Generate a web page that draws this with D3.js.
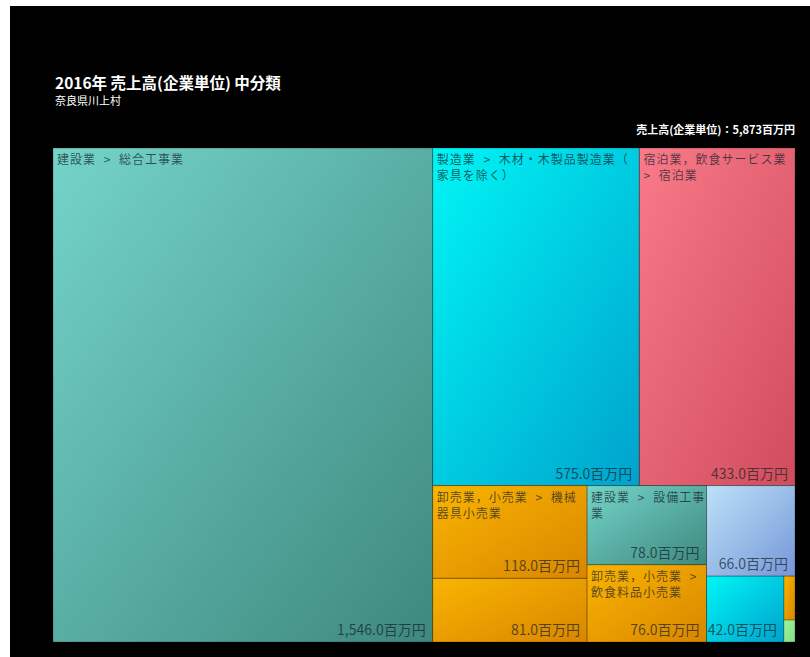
<!DOCTYPE html>
<html>
<head>
<meta charset="utf-8">
<script src="https://cdn.jsdelivr.net/npm/d3@7"></script>
<style>
	body { margin: 0; background: #fff; }
	svg { display: block; }
	text { font-family: "Noto Sans CJK JP", "Noto Sans", sans-serif; }
</style>
</head>
<body>
<div id="chart"></div>
<script>
// Data (百万円); "\n" marks where the reference wraps the label
const names = [
	"建設業 > 総合工事業",
	"製造業 > 木材・木製品製造業（\n家具を除く）",
	"宿泊業，飲食サービス業\n> 宿泊業",
	"卸売業，小売業 > 機械\n器具小売業",
	"",
	"建設業 > 設備工事\n業",
	"卸売業，小売業 >\n飲食料品小売業",
	"",
	"",
	"",
	""
];
const values = [1546, 575, 433, 118, 81, 78, 76, 66, 42, 4, 2];
const groups = ["建設業", "製造業", "宿泊業", "卸売業", "卸売業", "建設業", "卸売業", "other", "製造業", "卸売業", "other2"];
const title = "2016年 売上高(企業単位) 中分類";
const subtitle = "奈良県川上村";
const totalLabel = "売上高(企業単位)：5,873百万円";

const width = 810, height = 657;
const margin = [148, 15, 53, 15]; // top, bottom, left, right

// gradient colours per group [top-left, bottom-right]
const palette = {
	"建設業": ["#74d4ca", "#3e887e"],
	"製造業": ["#00f6f6", "#00a2cc"],
	"宿泊業": ["#fa7a8a", "#cf4c5c"],
	"卸売業": ["#fab400", "#d88600"],
	"other":  ["#bce2f8", "#7696d8"],
	"other2": ["#a0f4a0", "#80e080"]
};

const svg = d3.select("#chart").append("svg")
	.attr("width", width).attr("height", height);

// black panel
svg.append("rect")
	.attr("x", 10).attr("y", 6)
	.attr("width", width - 10).attr("height", height - 6)
	.attr("fill", "#000");

const defs = svg.append("defs");
Object.entries(palette).forEach(([k, c], i) => {
	let g = defs.append("linearGradient")
		.attr("id", "grad" + i)
		.attr("x1", 0).attr("y1", 0).attr("x2", 1).attr("y2", 1);
	g.append("stop").attr("offset", "0%").attr("stop-color", c[0]);
	g.append("stop").attr("offset", "100%").attr("stop-color", c[1]);
	palette[k].id = "grad" + i;
});

// Titles
svg.append("text")
	.attr("x", 55).attr("y", 89)
	.attr("fill", "#fff").attr("font-size", 15.5).attr("font-weight", "bold")
	.text(title);
svg.append("text")
	.attr("x", 55).attr("y", 105)
	.attr("fill", "#fff").attr("font-size", 11)
	.text(subtitle);
svg.append("text")
	.attr("x", 795).attr("y", 134)
	.attr("text-anchor", "end")
	.attr("fill", "#fff").attr("font-size", 11).attr("font-weight", "bold")
	.text(totalLabel);

// Treemap
const plotW = width - margin[2] - margin[3],
	plotH = height - margin[0] - margin[1];

const root = d3.hierarchy({
	children: values.map((v, i) => ({ name: names[i], value: v, group: groups[i] }))
})
	.sum(d => d.value || 0)
	.sort((a, b) => b.value - a.value);

d3.treemap()
	.tile(d3.treemapSquarify)
	.size([plotW, plotH])(root);

const chart = svg.append("g")
	.attr("transform", `translate(${margin[2]}, ${margin[0]})`);

const cells = chart.selectAll("g.cell")
	.data(root.leaves())
	.join("g")
	.classed("cell", true)
	.attr("transform", d => `translate(${d.x0}, ${d.y0})`);

cells.append("rect")
	.attr("width", d => d.x1 - d.x0)
	.attr("height", d => d.y1 - d.y0)
	.attr("fill", d => `url(#${palette[d.data.group].id})`)
	.attr("stroke", "rgba(0,0,0,0.25)")
	.attr("stroke-width", 1);

// name labels, one text per line
cells.filter(d => d.data.name)
	.selectAll("text.name")
	.data(d => d.data.name.split("\n"))
	.join("text")
	.classed("name", true)
	.attr("x", 4)
	.attr("y", (d, i) => 16 + i * 16)
	.attr("font-size", 12)
	.attr("letter-spacing", 1)
	.attr("word-spacing", 4)
	.attr("fill", "rgba(20,30,40,0.72)")
	.text(d => d);

const fmt = d3.format(",.1f");
cells.filter(d => (d.x1 - d.x0) > 40)
	.append("text")
	.attr("x", d => d.x1 - d.x0 - 7)
	.attr("y", d => d.y1 - d.y0 - 7)
	.attr("text-anchor", "end")
	.attr("font-size", 14)
	.attr("fill", "rgba(20,30,40,0.7)")
	.text(d => fmt(d.value) + "百万円");
</script>
</body>
</html>
